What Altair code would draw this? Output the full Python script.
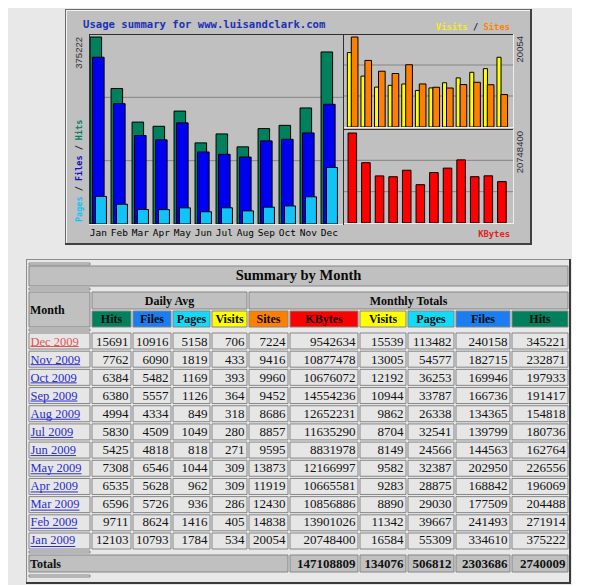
import altair as alt
import pandas as pd

# ---------------- data ----------------
SITE = "www.luisandclark.com"
YEAR = "2009"
MONTHS = ["Jan", "Feb", "Mar", "Apr", "May", "Jun", "Jul", "Aug", "Sep", "Oct", "Nov", "Dec"]
HITS = [375222, 271914, 204488, 196069, 226556, 162764, 180736, 154818, 191417, 197933, 232871, 345221]
FILES = [334610, 241493, 177509, 168842, 202950, 144563, 139799, 134365, 166736, 169946, 182715, 240158]
PAGES = [55309, 39667, 29030, 28875, 32387, 24566, 32541, 26338, 33787, 36253, 54577, 113482]
VISITS = [16584, 11342, 8890, 9283, 9582, 8149, 8704, 9862, 10944, 12192, 13005, 15539]
SITES = [20054, 14838, 12430, 11919, 13873, 9595, 8857, 8686, 9452, 9960, 9416, 7224]
KBYTES = [20748400, 13901026, 10856886, 10665581, 12166997, 8831978, 11635290, 12652231,
          14554236, 10676072, 10877478, 9542634]
AVG_HITS = [12103, 9711, 6596, 6535, 7308, 5425, 5830, 4994, 6380, 6384, 7762, 15691]
AVG_FILES = [10793, 8624, 5726, 5628, 6546, 4818, 4509, 4334, 5557, 5482, 6090, 10916]
AVG_PAGES = [1784, 1416, 936, 962, 1044, 818, 1049, 849, 1126, 1169, 1819, 5158]
AVG_VISITS = [534, 405, 286, 309, 309, 271, 280, 318, 364, 393, 433, 706]
TOTALS = [147108809, 134076, 506812, 2303686, 2740009]  # KBytes, Visits, Pages, Files, Hits

# ---------------- style ----------------
PAGE_BG = "#e8e8e8"
FRAME = "#c0c0c0"
MONO = "DejaVu Sans Mono"
SERIF = "Liberation Serif"
SANS = "Liberation Sans"
C_HITS, C_FILES, C_PAGES = "#00805c", "#0000f0", "#10c4f8"
C_VISITS, C_SITES, C_KB = "#ffff00", "#ff8000", "#ff0000"
T_HITS, T_FILES, T_PAGES = "#00805c", "#1a7ef0", "#10dcf8"
T_VISITS, T_SITES, T_KB = "#ffff00", "#ff8000", "#ff0000"
GRAY = "#c0c0c0"
CELL = "#e6e6e6"
CELL_STROKE = "#858585"

one = pd.DataFrame({"k": [0]})


def rect(x, x2, y, y2, **kw):
    return alt.Chart(one).mark_rect(**kw).encode(
        x=alt.value(x), x2=alt.value(x2), y=alt.value(y), y2=alt.value(y2))


def hline(x, x2, y, color, w=1):
    return alt.Chart(one).mark_rule(color=color, strokeWidth=w).encode(
        x=alt.value(x), x2=alt.value(x2), y=alt.value(y))


def vline(x, y, y2, color, w=1):
    return alt.Chart(one).mark_rule(color=color, strokeWidth=w).encode(
        x=alt.value(x), y=alt.value(y), y2=alt.value(y2))


def label(text, x, y, **kw):
    return alt.Chart(one).mark_text(text=text, **kw).encode(x=alt.value(x), y=alt.value(y))


# ---------------- top graphic ----------------
TW, TH = 467, 236
mdf = pd.DataFrame({"i": list(range(12)), "month": MONTHS, "hits": HITS, "files": FILES,
                    "pages": PAGES, "visits": VISITS, "sites": SITES, "kbytes": KBYTES})

HMAX = max(HITS) * 190 / 187
VSMAX_LABEL = max(VISITS + SITES)
VSMAX = VSMAX_LABEL * 93 / 90
KBMAX = max(KBYTES) * 94 / 90

xs_main = alt.Scale(domain=[0, 12], range=[24, 276])
ys_main = alt.Scale(domain=[0, HMAX], range=[215, 25])
xs_side = alt.Scale(domain=[0, 12], range=[281, 444.2])
ys_vs = alt.Scale(domain=[0, VSMAX], range=[118, 25])
ys_kb = alt.Scale(domain=[0, KBMAX], range=[214, 120])


def bars(field, color, lo, hi, xs, ys):
    return alt.Chart(mdf).transform_calculate(
        xa=f"datum.i + {lo}", xb=f"datum.i + {hi}", zero="0"
    ).mark_rect(fill=color, stroke="#000000", strokeWidth=1).encode(
        x=alt.X("xa:Q", scale=xs, axis=None),
        x2="xb:Q",
        y=alt.Y(f"{field}:Q", scale=ys, axis=None),
        y2="zero:Q",
    )


def grid(vmax, ys, x0, x1):
    g = pd.DataFrame({"v": [vmax / 3, 2 * vmax / 3]})
    return alt.Chart(g).mark_rule(color="#858585", strokeWidth=1).encode(
        y=alt.Y("v:Q", scale=ys, axis=None), x=alt.value(x0), x2=alt.value(x1))


DARK = "#303030"
LIGHT = "#eeeeee"
top_layers = [
    rect(0, TW, 0, TH, fill=FRAME),
    hline(0, TW, 0.5, "#6a6a6a"), vline(0.5, 0, TH, "#6a6a6a"),
    hline(1, TW - 2, 1.5, "#f2f2f2"), vline(1.5, 1, TH - 2, "#f2f2f2"),
    hline(0, TW, TH - 1, "#404040", 2), vline(TW - 1, 0, TH, "#404040", 2),
    grid(HMAX, ys_main, 25, 278),
    grid(VSMAX, ys_vs, 279, 448),
    grid(KBMAX, ys_kb, 279, 448),
    bars("hits", C_HITS, 0.05, 0.60, xs_main, ys_main),
    bars("files", C_FILES, 0.17, 0.72, xs_main, ys_main),
    bars("pages", C_PAGES, 0.31, 0.83, xs_main, ys_main),
    bars("visits", C_VISITS, 0.10, 0.40, xs_side, ys_vs),
    bars("sites", C_SITES, 0.39, 0.88, xs_side, ys_vs),
    bars("kbytes", C_KB, 0.15, 0.78, xs_side, ys_kb),
    # plot boxes (inset bevel)
    hline(24, 449, 25.5, DARK), vline(24.5, 25, 216, DARK),
    hline(24, 278, 215.5, LIGHT), vline(278.5, 25, 216, DARK),
    vline(448.5, 25, 119, LIGHT), hline(279, 449, 118.5, LIGHT),
    hline(279, 448, 120.5, DARK), vline(448.5, 120, 215, LIGHT), hline(279, 449, 214.5, LIGHT),
    # month labels
    alt.Chart(mdf).transform_calculate(xc="datum.i + 0.45").mark_text(
        font=MONO, fontSize=9.5, color="#000000", baseline="middle", align="center"
    ).encode(x=alt.X("xc:Q", scale=xs_main, axis=None), y=alt.value(224), text="month:N"),
    # title
    label("Usage summary for " + SITE, 18, 16, font=MONO, fontSize=10.6, fontWeight="bold",
          color="#1f30b8", align="left", baseline="middle"),
    # max labels
    label(str(max(HITS)), 14, 28, angle=270, align="right", baseline="middle",
          font=SANS, fontSize=9.5, color="#303030"),
    label(str(VSMAX_LABEL), 455, 27, angle=270, align="right", baseline="middle",
          font=SANS, fontSize=9.5, color="#303030"),
    label(str(max(KBYTES)), 455, 122, angle=270, align="right", baseline="middle",
          font=SANS, fontSize=9.5, color="#303030"),
    label("KBytes", 445, 225, font=MONO, fontSize=8.8, fontWeight="bold", color="#e02020",
          align="right", baseline="middle"),
]

# vertical legend "Pages / Files / Hits"
VS_SZ = 8.5
w = 0.602 * VS_SZ
for txt, idx, col in [("Pages", 0, C_PAGES), ("/", 6, "#202050"), ("Files", 8, "#1010c8"),
                      ("/", 14, "#202050"), ("Hits", 16, C_HITS)]:
    top_layers.append(label(txt, 14, 213 - idx * w, angle=270, align="left", baseline="middle",
                            font=MONO, fontSize=VS_SZ, fontWeight="bold", color=col))

# legend "Visits / Sites"
LG_SZ = 8.8
w2 = 0.602 * LG_SZ
start = 445 - 14 * w2
for txt, idx, col in [("Visits", 0, "#f4ec20"), ("/", 7, "#202050"), ("Sites", 9, C_SITES)]:
    top_layers.append(label(txt, start + idx * w2, 18, align="left", baseline="middle",
                            font=MONO, fontSize=LG_SZ, fontWeight="bold", color=col))

top = alt.layer(*top_layers).resolve_scale(x="independent", y="independent").properties(
    width=TW, height=TH)

# ---------------- table ----------------
TBW, TBH = 545, 327
COLS = [(3, 64), (66, 105), (107, 145), (147, 184), (186, 221), (223, 262),
        (264, 332), (334, 380), (382, 428), (430, 484), (486, 542)]
HEAD_NAMES = ["Hits", "Files", "Pages", "Visits", "Sites", "KBytes", "Visits", "Pages", "Files", "Hits"]
HEAD_COLORS = [T_HITS, T_FILES, T_PAGES, T_VISITS, T_SITES, T_KB, T_VISITS, T_PAGES, T_FILES, T_HITS]
row_labels = [f"{m} {YEAR}" for m in MONTHS[::-1]]
series = [AVG_HITS, AVG_FILES, AVG_PAGES, AVG_VISITS, SITES, KBYTES, VISITS, PAGES, FILES, HITS]

CW = {"J": .389, "a": .444, "n": .5, "F": .556, "e": .444, "b": .5, "M": .889, "r": .333,
      "A": .722, "p": .5, "y": .5, "u": .5, "l": .278, "g": .5, "S": .556, "O": .722,
      "c": .444, "t": .278, "N": .722, "o": .5, "v": .5, "D": .722, " ": .25}
FS = 12.5
NFS = 13


def tw(s, size=FS):
    return sum(CW.get(ch, 0.5) for ch in s) * size


cells = []
for r, lab in enumerate(row_labels):
    mi = 11 - r
    for c, ser in enumerate(series):
        x0, x1 = COLS[c + 1]
        cells.append({"label": lab, "x0": x0, "x1": x1, "xt": x1 - 2.5, "txt": str(ser[mi])})
cells_df = pd.DataFrame(cells)

mcells_df = pd.DataFrame({
    "label": row_labels,
    "x0": [COLS[0][0]] * 12, "x1": [COLS[0][1]] * 12,
    "xt": [COLS[0][0] + 1.5] * 12,
    "lc": ["#e05656"] + ["#2b2bd0"] * 11,
})
mcells_df["ux2"] = mcells_df["xt"] + [tw(l) for l in row_labels]

hdr = [dict(x0=3, x1=542, y0=9, y1=29, fill=GRAY, txt="Summary by Month", fs=14.5),
       dict(x0=66, x1=221, y0=35, y1=52, fill=GRAY, txt="Daily Avg", fs=12),
       dict(x0=223, x1=542, y0=35, y1=52, fill=GRAY, txt="Monthly Totals", fs=12)]
for c in range(10):
    x0, x1 = COLS[c + 1]
    hdr.append(dict(x0=x0, x1=x1, y0=54, y1=70, fill=HEAD_COLORS[c], txt=HEAD_NAMES[c], fs=12))
hdr_df = pd.DataFrame(hdr)
hdr_df["xt"] = (hdr_df["x0"] + hdr_df["x1"]) / 2
hdr_df["yt"] = (hdr_df["y0"] + hdr_df["y1"]) / 2

tot = [dict(x0=3, x1=262, txt="", xt=0)]
for c in range(5):
    x0, x1 = COLS[c + 6]
    tot.append(dict(x0=x0, x1=x1, txt=str(TOTALS[c]), xt=x1 - 2.5))
tot_df = pd.DataFrame(tot)
tot_df["y0"] = 298
tot_df["y1"] = 315
tot_df["yt"] = 306.5

YB = alt.Scale(domain=row_labels, range=[76, 292], paddingInner=0.12, paddingOuter=0)

spacer_rows = [(6, 8), (31, 33), (72, 74), (294, 296), (318, 320)]
table_layers = [
    rect(0, TBW, 2, TBH, fill=PAGE_BG),
    hline(0, TBW, 2.5, "#8c8c8c"), vline(0.5, 2, TBH, "#8c8c8c"),
    hline(0, TBW, TBH - 1, "#3a3a3a", 2), vline(TBW - 1, 2, TBH, "#3a3a3a", 2),
]
for y0, y1 in spacer_rows:
    table_layers.append(rect(3, 64, y0, y1, fill=CELL, stroke=CELL_STROKE, strokeWidth=1))

table_layers += [
    # header cells
    rect(3, 64, 35, 70, fill=GRAY, stroke=CELL_STROKE, strokeWidth=1),
    alt.Chart(hdr_df).mark_rect(stroke=CELL_STROKE, strokeWidth=1).encode(
        x=alt.X("x0:Q", scale=None), x2="x1:Q", y=alt.Y("y0:Q", scale=None), y2="y1:Q",
        fill=alt.Fill("fill:N", scale=None)),
    alt.Chart(hdr_df).mark_text(font=SERIF, fontWeight="bold", align="center", baseline="middle",
                                color="#0a0a0a").encode(
        x=alt.X("xt:Q", scale=None), y=alt.Y("yt:Q", scale=None), text="txt:N",
        size=alt.Size("fs:Q", scale=None)),
    label("Month", 4, 52.5, font=SERIF, fontWeight="bold", fontSize=12, align="left",
          baseline="middle", color="#0a0a0a"),
    # data cells
    alt.Chart(cells_df).mark_rect(fill=CELL, stroke=CELL_STROKE, strokeWidth=1).encode(
        x=alt.X("x0:Q", scale=None), x2="x1:Q", y=alt.Y("label:N", scale=YB, axis=None)),
    alt.Chart(mcells_df).mark_rect(fill=CELL, stroke=CELL_STROKE, strokeWidth=1).encode(
        x=alt.X("x0:Q", scale=None), x2="x1:Q", y=alt.Y("label:N", scale=YB, axis=None)),
    alt.Chart(cells_df).mark_text(font=SERIF, fontSize=NFS, align="right", baseline="middle",
                                  color="#111111").encode(
        x=alt.X("xt:Q", scale=None),
        y=alt.Y("label:N", scale=YB, axis=None, bandPosition=0.5), text="txt:N"),
    alt.Chart(mcells_df).mark_text(font=SERIF, fontSize=FS, align="left", baseline="middle").encode(
        x=alt.X("xt:Q", scale=None),
        y=alt.Y("label:N", scale=YB, axis=None, bandPosition=0.5), text="label:N",
        color=alt.Color("lc:N", scale=None)),
    alt.Chart(mcells_df).mark_rule(strokeWidth=1, yOffset=5.5).encode(
        x=alt.X("xt:Q", scale=None), x2="ux2:Q",
        y=alt.Y("label:N", scale=YB, axis=None, bandPosition=0.5),
        color=alt.Color("lc:N", scale=None)),
    # totals row
    alt.Chart(tot_df).mark_rect(fill=GRAY, stroke=CELL_STROKE, strokeWidth=1).encode(
        x=alt.X("x0:Q", scale=None), x2="x1:Q", y=alt.Y("y0:Q", scale=None), y2="y1:Q"),
    alt.Chart(tot_df).mark_text(font=SERIF, fontSize=NFS, fontWeight="bold", align="right",
                                baseline="middle", color="#111111").encode(
        x=alt.X("xt:Q", scale=None), y=alt.Y("yt:Q", scale=None), text="txt:N"),
    label("Totals", 4, 306.5, font=SERIF, fontWeight="bold", fontSize=12, align="left",
          baseline="middle", color="#111111"),
]

table = alt.layer(*table_layers).resolve_scale(x="independent", y="independent").properties(
    width=TBW, height=TBH)

chart = alt.vconcat(top, table, spacing=11, center=True).properties(
    background=PAGE_BG,
    padding={"left": 17, "right": 0, "top": 0, "bottom": 0},
).configure_view(strokeWidth=0)

chart.save("out.html", embed_options={"renderer": "svg", "actions": False})
